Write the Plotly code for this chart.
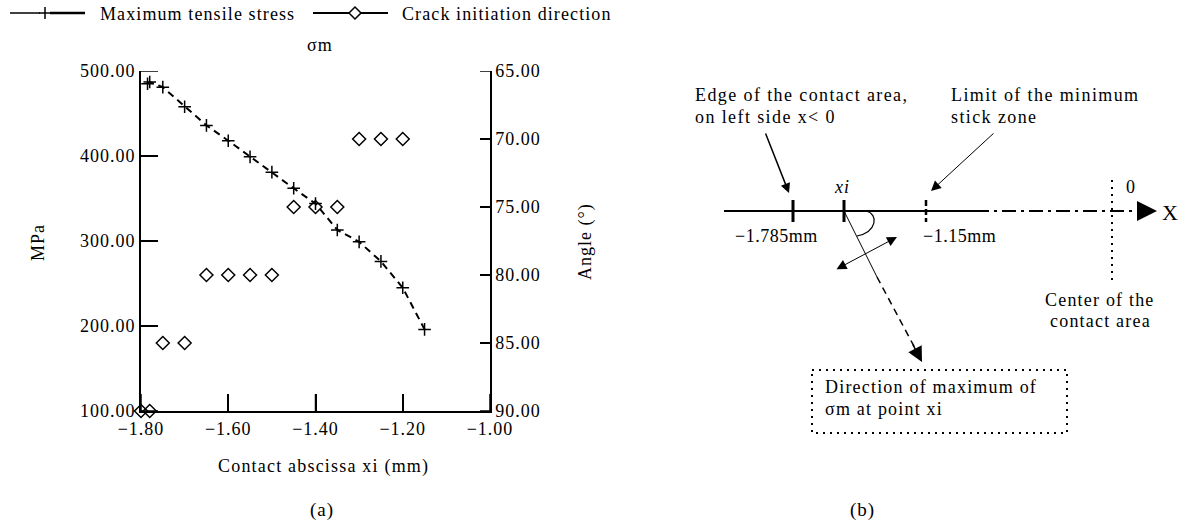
import plotly.graph_objects as go
import numpy as np

W, H = 1179, 522
FONT = "Liberation Serif"

# ---------------- Panel (a) data ----------------
stress_x = [-1.785, -1.78, -1.75, -1.70, -1.65, -1.60, -1.55, -1.50, -1.45, -1.40, -1.35, -1.30, -1.25, -1.20, -1.15]
stress_mpa = [485, 487, 481, 458, 436, 418, 399, 381, 362, 344, 313, 299, 276, 245, 196]

angle_x = [-1.80, -1.78, -1.75, -1.70, -1.65, -1.60, -1.55, -1.50, -1.45, -1.40, -1.35, -1.30, -1.25, -1.20, -1.15]
angle_deg = [90, 90, 85, 85, 80, 80, 80, 80, 75, 75, 75, 70, 70, 70, 64.7]

x_ticks = [-1.80, -1.60, -1.40, -1.20, -1.00]
x_tick_labels = ["−1.80", "−1.60", "−1.40", "−1.20", "−1.00"]
mpa_ticks = [100, 200, 300, 400, 500]
mpa_tick_labels = ["100.00", "200.00", "300.00", "400.00", "500.00"]
angle_ticks = [65, 70, 75, 80, 85, 90]
angle_tick_labels = ["65.00", "70.00", "75.00", "80.00", "85.00", "90.00"]

legend_labels = ["Maximum tensile stress", "Crack initiation direction"]
x_title = "Contact abscissa xi (mm)"
y_title = "MPa"
y2_title = "Angle (°)"
top_title = "σm"


def sp(t, ls=1.0):
    return f'<span style="letter-spacing:{ls}px">{t}</span>'


def px(x):
    return x / W


def py(y):
    return 1 - y / H


PLOT_L, PLOT_R, PLOT_T, PLOT_B = 141, 490, 71, 411
PW, PH = PLOT_R - PLOT_L, PLOT_B - PLOT_T

fig = go.Figure()

# stress curve
fig.add_trace(go.Scatter(
    x=stress_x, y=stress_mpa, mode="lines+markers", xaxis="x", yaxis="y",
    line=dict(color="black", width=2, dash="7px,5px"),
    marker=dict(symbol="cross-thin-open", size=9, color="black", line=dict(color="black", width=1.5)),
    cliponaxis=False, showlegend=False, name=legend_labels[0]))

# crack direction
fig.add_trace(go.Scatter(
    x=angle_x, y=angle_deg, mode="markers", xaxis="x", yaxis="y2",
    marker=dict(symbol="diamond-open", size=10, color="black", line=dict(color="black", width=1.5)),
    cliponaxis=False, showlegend=False, name=legend_labels[1]))

tickfont = dict(family=FONT, size=18, color="black")
axis_common = dict(tickmode="array", tickcolor="black", tickwidth=1.5, ticks="inside",
                   showline=True, linecolor="black", showgrid=False, zeroline=False,
                   tickfont=tickfont, automargin=False)

fig.update_layout(
    template="none",
    width=W, height=H,
    margin=dict(l=0, r=0, t=0, b=0, pad=0, autoexpand=False),
    paper_bgcolor="white", plot_bgcolor="white",
    font=dict(family=FONT, size=18, color="black"),
    showlegend=False,
    xaxis=dict(domain=[px(PLOT_L), px(PLOT_R)], range=[-1.8, -1.0], anchor="y",
               tickvals=x_ticks, ticktext=[sp(t) for t in x_tick_labels],
               ticklen=17, linewidth=2, **axis_common),
    yaxis=dict(domain=[py(PLOT_B), py(PLOT_T)], range=[100, 500], anchor="x",
               tickvals=mpa_ticks, ticktext=[sp(t) for t in mpa_tick_labels],
               ticklen=17, linewidth=2, **axis_common),
    yaxis2=dict(overlaying="y", side="right", anchor="x", range=[90, 65],
                tickvals=angle_ticks, ticktext=[sp(t) for t in angle_tick_labels],
                ticklen=10, linewidth=1.5, **axis_common),
)

shapes = []
annots = []

# tick marks pointing into the plot, placed through the axes
for v in x_ticks:
    shapes.append(dict(type="line", xref="x", yref="y domain", x0=v, x1=v, y0=0, y1=17 / PH,
                       line=dict(color="black", width=1.5), layer="above"))
for v in mpa_ticks:
    shapes.append(dict(type="line", xref="x domain", yref="y", x0=0, x1=17 / PW, y0=v, y1=v,
                       line=dict(color="black", width=1.5), layer="above"))
for v in angle_ticks:
    shapes.append(dict(type="line", xref="x domain", yref="y2", x0=1 - 10 / PW, x1=1, y0=v, y1=v,
                       line=dict(color="black", width=1.5), layer="above"))


def line(x0, y0, x1, y1, width=1.5, dash="solid"):
    shapes.append(dict(type="line", xref="paper", yref="paper",
                       x0=px(x0), y0=py(y0), x1=px(x1), y1=py(y1),
                       line=dict(color="black", width=width, dash=dash)))


def path(points, width=1.5, close=False, cmd="L"):
    d = "M {:.5f},{:.5f}".format(px(points[0][0]), py(points[0][1]))
    if cmd == "C":
        d += " C " + " ".join("{:.5f},{:.5f}".format(px(a), py(b)) for a, b in points[1:])
    else:
        d += "".join(" L {:.5f},{:.5f}".format(px(a), py(b)) for a, b in points[1:])
    if close:
        d += " Z"
    shapes.append(dict(type="path", xref="paper", yref="paper", path=d,
                       line=dict(color="black", width=width)))


def text(t, x, y, size=18, xanchor="center", ls=1.0, angle=0, italic=False):
    if italic:
        t = f"<i>{t}</i>"
    annots.append(dict(text=sp(t, ls), x=px(x), y=py(y), xref="paper", yref="paper", showarrow=False,
                       xanchor=xanchor, yanchor="middle", textangle=angle,
                       font=dict(family=FONT, size=size, color="black")))


def arrow(x0, y0, x1, y1, width=1.5, size=1.5, both=False):
    a = dict(text="", x=px(x1), y=py(y1), ax=x0 - x1, ay=y0 - y1, xref="paper", yref="paper",
             axref="pixel", ayref="pixel",
             showarrow=True, arrowhead=2, arrowsize=size, arrowwidth=width, arrowcolor="black",
             standoff=0, startstandoff=0)
    if both:
        a.update(arrowside="end+start", startarrowhead=2, startarrowsize=size)
    annots.append(a)


# ---------- legend ----------
line(10, 13, 40, 13, width=1.5)
line(50, 13, 85, 13, width=2.5)
line(39, 13, 51, 13, width=1.5)
line(45, 7, 45, 19, width=1.5)          # "+" glyph
text(legend_labels[0], 98, 14, xanchor="left", ls=1.1)
line(313, 13, 349, 13, width=2)
line(361, 13, 388, 13, width=2)
path([(349, 13), (355, 7), (361, 13), (355, 19)], width=1.5, close=True)  # diamond glyph
text(legend_labels[1], 400, 14, xanchor="left", ls=1.1)

# ---------- panel (a) titles ----------
text(top_title, 320, 45)
text(y_title, 38, 242, angle=-90)
text(y2_title, 585, 242, angle=-90)
text(x_title, 323, 466, ls=1.2)
text("(a)", 322, 510, size=19)

# ---------- panel (b) diagram ----------
line(724, 211, 975, 211, width=2)
line(975, 211, 1146, 211, width=2, dash="14px,5px,3px,5px")
arrow(1140, 211, 1157, 211, width=2, size=2)
text("X", 1170, 212, size=22, ls=0)

line(793, 200, 793, 222, width=3)
line(844, 200, 844, 222, width=3)
line(926, 200, 926, 222, width=2.5, dash="6px,3px")
text("xi", 842, 187, italic=True)
text("−1.785mm", 776, 236, ls=0.5)
text("−1.15mm", 960, 236, ls=0.5)

text("Edge of the contact area,", 693, 95, xanchor="left", ls=1.4)
text("on left side x< 0", 693, 117, xanchor="left", ls=1.4)
arrow(765, 132, 789, 193, width=1.5, size=1.3)

text("Limit of the minimum", 949, 95, xanchor="left", ls=1.4)
text("stick zone", 949, 117, xanchor="left", ls=1.4)
arrow(995, 132, 931, 191, width=1, size=2)

line(1112, 180, 1112, 285, width=2, dash="2px,5px")
text("0", 1131, 187)
text("Center of the", 1100, 300, ls=1.2)
text("contact area", 1100, 321, ls=1.2)

# angle arc
path([(866, 211), (879, 214), (877, 232), (857, 236)], width=1.2, cmd="C")

# direction of max stress
line(844, 211, 877, 277, width=1)
line(877, 277, 916, 350, width=1.5, dash="7px,5px")
arrow(912, 343, 922, 362, width=1.5, size=2)
arrow(835, 270, 897, 237, width=1, size=2, both=True)

shapes.append(dict(type="rect", xref="paper", yref="paper",
                   x0=px(812), y0=py(370), x1=px(1067), y1=py(433),
                   line=dict(color="black", width=2, dash="2px,5px")))
text("Direction of maximum of", 823, 387, xanchor="left", ls=1.2)
text("σm at point xi", 823, 409, xanchor="left", ls=1.2)

text("(b)", 862, 510, size=19)

fig.update_layout(shapes=shapes, annotations=annots)
fig.write_html("out.html")
